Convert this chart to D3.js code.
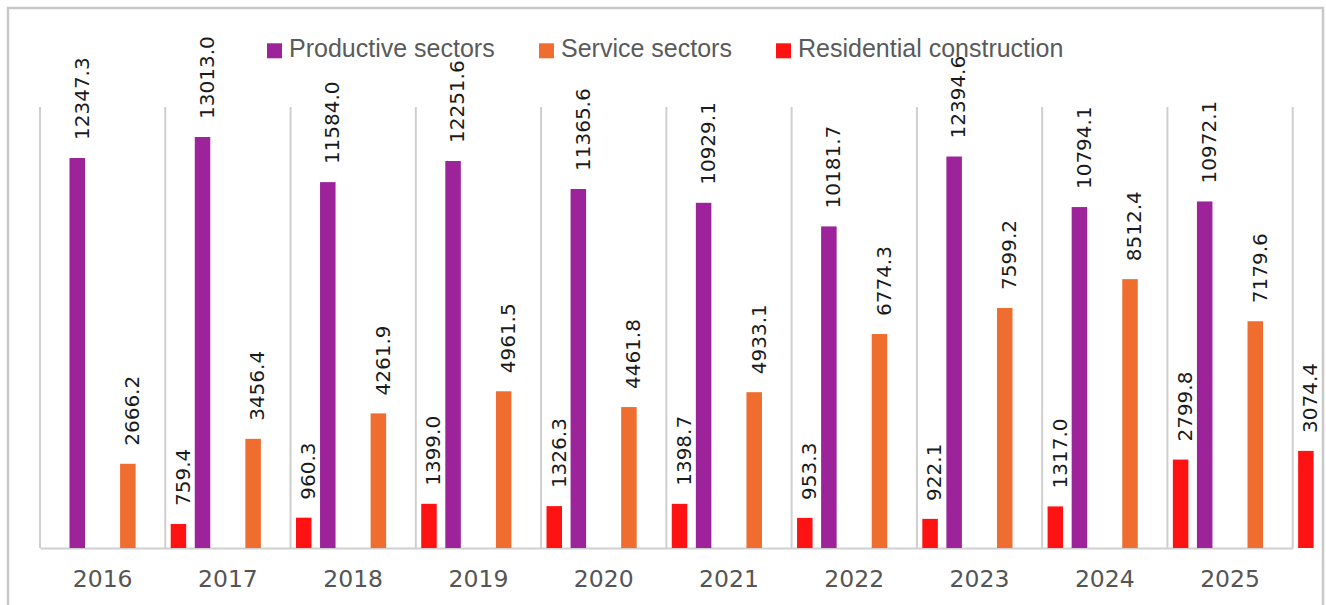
<!DOCTYPE html>
<html>
<head>
<meta charset="utf-8">
<script src="https://cdn.jsdelivr.net/npm/d3@7"></script>
<style>
  body { margin: 0; background: #fff; }
  svg { display: block; }
</style>
</head>
<body>
<div id="chart"></div>
<script>
var years = ["2016", "2017", "2018", "2019", "2020", "2021", "2022", "2023", "2024", "2025"];
var seriesNames = ["Productive sectors", "Service sectors", "Residential construction"];
var seriesColors = ["#9c2399", "#ef6d2e", "#ff1212"];

var productive = [12347.3, 13013.0, 11584.0, 12251.6, 11365.6, 10929.1, 10181.7, 12394.6, 10794.1, 10972.1];
var service = [2666.2, 3456.4, 4261.9, 4961.5, 4461.8, 4933.1, 6774.3, 7599.2, 8512.4, 7179.6];
var residential = [759.4, 960.3, 1399.0, 1326.3, 1398.7, 953.3, 922.1, 1317.0, 2799.8, 3074.4];

var seriesValues = [productive, service, residential];

var width = 1326, height = 605;
var baseY = 548;
var barWidth = 15.5;

var svg = d3.select("#chart").append("svg")
  .attr("width", width)
  .attr("height", height);

// outer frame
svg.append("rect")
  .attr("x", 8)
  .attr("y", 8)
  .attr("width", 1315)
  .attr("height", 610)
  .attr("fill", "none")
  .attr("stroke", "#c8c8c8")
  .attr("stroke-width", 2.5);

var xScale = d3.scaleBand()
  .domain(years)
  .range([40, 1292.7])
  .paddingInner(0)
  .paddingOuter(0);

// bars overflow their band a little, like the original
var offset = d3.scalePoint()
  .domain(d3.range(seriesNames.length))
  .range([29.5, 130.7]);

var yScale = d3.scaleLinear()
  .domain([0, 16000])
  .range([baseY, baseY - 16000 * 0.031585]);

// category separators
var bounds = years.map(function(y) { return xScale(y); }).concat([xScale.range()[1]]);
svg.append("g")
  .selectAll("line")
  .data(bounds)
  .enter().append("line")
  .attr("x1", function(d) { return d; })
  .attr("x2", function(d) { return d; })
  .attr("y1", 107)
  .attr("y2", baseY)
  .attr("stroke", "#cfcfcf")
  .attr("stroke-width", 2);

// x axis
var xAxis = d3.axisBottom(xScale).tickSize(0).tickPadding(0);
var axisG = svg.append("g")
  .attr("transform", "translate(0," + baseY + ")")
  .call(xAxis);
axisG.select(".domain")
  .attr("stroke", "#cfcfcf")
  .attr("stroke-width", 2);
axisG.selectAll("text")
  .attr("y", 38.5)
  .attr("dy", null)
  .attr("fill", "#555")
  .style("font-family", "'DejaVu Sans', sans-serif")
  .style("font-size", "23.5px");

// legend
var legendX = [267, 539, 776];
var legend = svg.append("g");
seriesNames.forEach(function(name, i) {
  legend.append("rect")
    .attr("x", legendX[i])
    .attr("y", 43.3)
    .attr("width", 15)
    .attr("height", 15)
    .attr("fill", seriesColors[i]);
  legend.append("text")
    .attr("x", legendX[i] + 22)
    .attr("y", 56.5)
    .attr("fill", "#5a5a5a")
    .style("font-family", "'Liberation Sans', Arial, sans-serif")
    .style("font-size", "25px")
    .text(name);
});

// bars + labels
seriesValues.forEach(function(vals, s) {
  var g = svg.append("g");
  var rows = vals.map(function(v, i) { return { year: years[i], value: v }; });

  g.selectAll("rect")
    .data(rows)
    .enter().append("rect")
    .attr("x", function(d) { return xScale(d.year) + offset(s); })
    .attr("y", function(d) { return yScale(d.value); })
    .attr("width", barWidth)
    .attr("height", function(d) { return baseY - yScale(d.value); })
    .attr("fill", seriesColors[s]);

  g.selectAll("text")
    .data(rows)
    .enter().append("text")
    .attr("transform", function(d) {
      var cx = xScale(d.year) + offset(s) + barWidth / 2;
      return "translate(" + cx + "," + (yScale(d.value) - 18) + ") rotate(-90)";
    })
    .attr("dy", 11.3)
    .attr("fill", "#1a1a1a")
    .style("font-family", "'DejaVu Sans', sans-serif")
    .style("font-size", "20px")
    .text(function(d) { return d.value.toFixed(1); });
});
</script>
</body>
</html>
